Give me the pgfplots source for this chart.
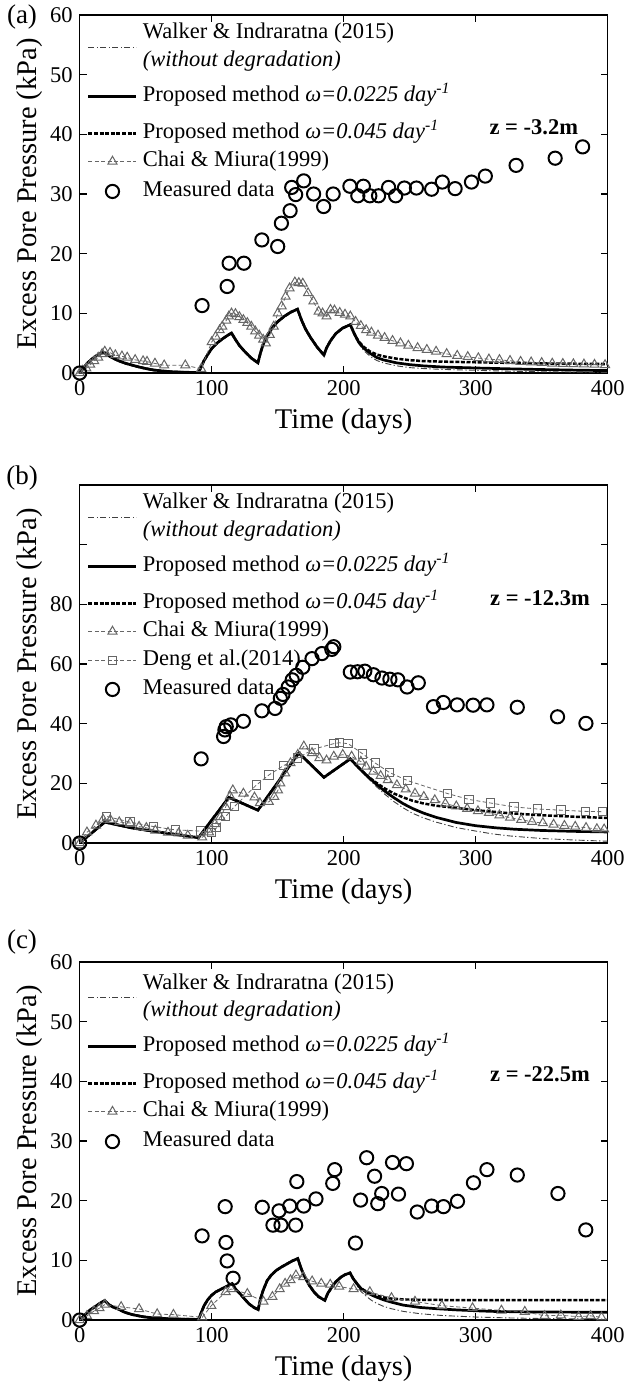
\documentclass[border=0pt]{standalone}
\usepackage{pgfplots}
\pgfplotsset{compat=1.18}
\usepackage{fontspec}
\setmainfont{Liberation Serif}
\tikzset{
  rowW/.style={text height=7.75pt, text depth=2.75pt},
  rowWO/.style={text height=7.75pt, text depth=2.75pt},
  rowPa/.style={text height=11.75pt, text depth=6.75pt},
  rowPb/.style={text height=8.75pt, text depth=3.75pt},
  rowC/.style={text height=7.25pt, text depth=2.25pt},
  rowM/.style={text height=9.75pt, text depth=4.75pt},
  rowD/.style={text height=9.25pt, text depth=4.25pt},
  rowMb/.style={text height=7.25pt, text depth=2.25pt},
}
\begin{document}
\begin{tikzpicture}[x=1pt,y=1pt]
\useasboundingbox (0,0) rectangle (312.5,-692);
\pgfplotsset{
  myaxis/.style={
    scale only axis, width=264pt, height=179pt,
    xmin=0, xmax=400, xtick={0,100,200,300,400},
    axis line style={line width=0.6pt},
    tick align=inside, major tick length=3.5pt,
    every tick/.style={line width=0.6pt, black},
    font=\fontsize{11.25}{13.5}\selectfont,
    /pgf/number format/assume math mode=true,
    xlabel={Time (days)}, ylabel={Excess Pore Pressure (kPa)},
    label style={font=\fontsize{14.25}{17}\selectfont},
    xlabel style={at={(axis description cs:0.5,-0.1353)}, anchor=center},
    ylabel style={at={(axis description cs:-0.0941,0.5)}, anchor=center},
    legend cell align=left,
    legend style={draw=none, fill=none, inner sep=0pt, row sep=0pt, column sep=1pt,
      nodes={inner sep=1.5pt}, font=\fontsize{11.25}{13.5}\selectfont,
      anchor=north west},
    legend image code/.code={\draw[mark repeat=2,mark phase=2,#1] plot coordinates {(0pt,0pt) (12pt,0pt) (24pt,0pt)};},
  },
  walker/.style={black!75, line width=0.45pt, dash pattern=on 3pt off 1.2pt on 0.6pt off 1.2pt,
    legend image code/.code={\draw[##1] (0pt,-6.75pt) -- (24pt,-6.75pt);}},
  solidp/.style={black, line width=1.35pt},
  dashp/.style={black, line width=1.25pt, dash pattern=on 2pt off 0.8pt},
  chai/.style={black!60, line width=0.4pt, dash pattern=on 2pt off 1.2pt, mark=triangle, mark size=2.6pt, mark options={solid, black!60, line width=0.5pt, fill=none}},
  deng/.style={black!60, line width=0.4pt, dash pattern=on 2pt off 1.2pt, mark=square, mark size=2.1pt, mark options={solid, black!60, line width=0.5pt, fill=none}},
  meas/.style={only marks, mark=o, mark size=3.3pt, mark options={black, line width=1pt}, legend image code/.code={\draw[##1] plot coordinates {(12pt,0pt)};}},
}
% ---------------- (a) ----------------
\begin{axis}[myaxis, at={(39.85pt,-186.5pt)}, anchor=south west, ymin=0, ymax=60, ytick={0,10,...,60},
  legend style={at={(axis description cs:0.0133,0.9858)}}]
\addplot[walker] coordinates {(0,0) (3,0.9) (6,1.7) (9,2.3) (12,2.8) (15,3.2) (18,3.5) (22,2.9) (26,2.4) (30,2.0) (35,1.6) (40,1.3) (45,1.0) (50,0.75) (56,0.5) (62,0.35) (70,0.2) (80,0.12) (90,0.08) (92,1.0) (94,2.0) (97,3.1) (100,4.1) (104,5.0) (108,5.7) (112,6.3) (115,6.7) (118,5.6) (121,4.6) (125,3.6) (130,2.5) (135,1.7) (137,3.4) (139,4.8) (142,6.3) (146,7.6) (150,8.6) (155,9.5) (160,10.2) (165,10.7) (168,8.9) (171,7.4) (175,5.9) (180,4.3) (185,3.0) (187,4.2) (190,5.4) (194,6.6) (199,7.5) (205,8.1) (208,6.3) (211,5.0) (215,3.8) (220,2.8) (225,2.1) (230,1.7) (240,1.2) (250,0.9) (260,0.75) (275,0.6) (300,0.45) (325,0.3) (350,0.2) (375,0.15) (400,0.1)};
\addlegendentry[rowW]{Walker \& Indraratna (2015)}
\addlegendimage{legend image code/.code={}}
\addlegendentry[rowWO]{\textit{(without degradation)}}
\addplot[solidp] coordinates {(0,0) (3,0.9) (6,1.7) (9,2.3) (12,2.8) (15,3.2) (18,3.5) (22,2.9) (26,2.4) (30,2.0) (35,1.6) (40,1.3) (45,1.0) (50,0.75) (56,0.5) (62,0.35) (70,0.2) (80,0.12) (90,0.08) (92,1.0) (94,2.0) (97,3.1) (100,4.1) (104,5.0) (108,5.7) (112,6.3) (115,6.7) (118,5.6) (121,4.6) (125,3.6) (130,2.5) (135,1.7) (137,3.4) (139,4.8) (142,6.3) (146,7.6) (150,8.6) (155,9.5) (160,10.2) (165,10.7) (168,8.9) (171,7.4) (175,5.9) (180,4.3) (185,3.0) (187,4.2) (190,5.4) (194,6.6) (199,7.5) (205,8.1) (208,6.6) (211,5.3) (215,4.2) (220,3.3) (225,2.6) (230,2.2) (240,1.7) (250,1.4) (260,1.2) (275,1.0) (300,0.84) (325,0.7) (350,0.58) (375,0.48) (400,0.4)};
\addlegendentry[rowPa]{Proposed method \textit{ω=0.0225 day\textsuperscript{-1}}}
\addplot[dashp] coordinates {(0,0) (3,0.9) (6,1.7) (9,2.3) (12,2.8) (15,3.2) (18,3.5) (22,2.9) (26,2.4) (30,2.0) (35,1.6) (40,1.3) (45,1.0) (50,0.75) (56,0.5) (62,0.35) (70,0.2) (80,0.12) (90,0.08) (92,1.0) (94,2.0) (97,3.1) (100,4.1) (104,5.0) (108,5.7) (112,6.3) (115,6.7) (118,5.6) (121,4.6) (125,3.6) (130,2.5) (135,1.7) (137,3.4) (139,4.8) (142,6.3) (146,7.6) (150,8.6) (155,9.5) (160,10.2) (165,10.7) (168,8.9) (171,7.4) (175,5.9) (180,4.3) (185,3.0) (187,4.2) (190,5.4) (194,6.6) (199,7.5) (205,8.1) (208,6.6) (211,5.4) (215,4.4) (220,3.6) (225,3.1) (230,2.8) (240,2.4) (250,2.15) (260,2.0) (275,1.9) (300,1.8) (325,1.7) (350,1.6) (375,1.55) (400,1.5)};
\addlegendentry[rowPb]{Proposed method \textit{ω=0.045 day\textsuperscript{-1}}}
\addplot[chai] coordinates {(0,0) (2,0.4) (5,0.8) (8,1.4) (11,2.0) (14,2.6) (17,3.2) (19,3.6) (23,3.4) (27,3.0) (32,2.8) (36,2.6) (42,2.2) (48,2.0) (51,1.9) (57,1.6) (64,1.3) (80,1.3) (92,0.7) (100,5.2) (103,6.1) (106,7.2) (108,7.8) (111,8.8) (113,9.5) (115,10.0) (118,9.9) (121,9.4) (124,8.9) (127,8.4) (130,7.8) (133,7.0) (136,6.3) (139,5.6) (141,5.0) (144,6.4) (147,7.8) (150,10.0) (153,11.2) (156,12.8) (159,14.2) (163,15.2) (166,15.1) (169,15.0) (173,13.4) (177,12.0) (181,10.3) (184,10.0) (187,9.5) (190,10.6) (193,10.5) (197,10.1) (201,9.8) (205,9.5) (209,8.6) (213,7.9) (217,7.2) (221,6.8) (226,6.3) (231,5.9) (237,5.4) (243,5.0) (249,4.6) (256,4.2) (263,3.9) (270,3.6) (278,3.2) (286,2.9) (294,2.7) (302,2.5) (310,2.3) (318,2.2) (326,2.05) (334,1.9) (342,1.8) (350,1.7) (358,1.6) (366,1.55) (374,1.5) (382,1.45) (390,1.4) (398,1.35)};
\addlegendentry[rowC]{Chai \& Miura(1999)}
\addplot[meas] coordinates {(0,0) (92.7,11.3) (111.7,14.5) (113.2,18.4) (124.4,18.4) (138,22.3) (150,21.2) (152.8,25.1) (159.4,27.2) (160.6,31.1) (163.6,29.9) (169.7,32.2) (177.2,30.0) (184.8,27.9) (192,30.0) (204.7,31.3) (210.7,29.7) (214.9,31.3) (219.8,29.7) (226.4,29.7) (234,31.1) (239.4,29.7) (246,31.0) (255.1,31.0) (266.6,30.8) (274.7,32.0) (284.4,30.9) (296.8,32.0) (307.3,33.0) (330.6,34.8) (360.2,36.0) (381,37.9)};
\addlegendentry[rowM]{Measured data}
\node[font=\fontsize{11.25}{13.5}\selectfont\bfseries] at (axis cs:344,41.2) {z = -3.2m};
\end{axis}
% ---------------- (b) ----------------
\begin{axis}[myaxis, at={(39.85pt,-421.5pt)}, anchor=south west, ymin=0, ymax=120, ytick={0,20,...,120}, yticklabels={0,20,40,60,80,{},{}},
  legend style={at={(axis description cs:0.0133,0.9858)}}]
\addplot[walker] coordinates {(0,0) (19,7.0) (40,5.0) (67,3.2) (90,1.8) (113,15.3) (135,11.0) (166,30.2) (185,22.0) (205,28.2) (211,25.4) (217,22.3) (224,19.2) (231,16.4) (238,13.9) (245,11.8) (252,10.0) (260,8.5) (270,7.0) (285,5.2) (300,4.0) (312,3.1) (325,2.4) (350,1.5) (375,1.0) (400,0.6)};
\addlegendentry[rowW]{Walker \& Indraratna (2015)}
\addlegendimage{legend image code/.code={}}
\addlegendentry[rowWO]{\textit{(without degradation)}}
\addplot[solidp] coordinates {(0,0) (19,7.0) (40,5.0) (67,3.2) (90,1.8) (113,15.3) (135,11.0) (166,30.2) (185,22.0) (205,28.2) (211,25.4) (217,22.8) (224,20.0) (231,17.4) (238,15.2) (245,13.2) (252,11.6) (260,10.1) (270,8.6) (285,6.9) (300,5.8) (315,5.1) (330,4.6) (350,4.2) (375,3.9) (400,3.7)};
\addlegendentry[rowPa]{Proposed method \textit{ω=0.0225 day\textsuperscript{-1}}}
\addplot[dashp] coordinates {(0,0) (19,7.0) (40,5.0) (67,3.2) (90,1.8) (113,15.3) (135,11.0) (166,30.2) (185,22.0) (205,28.2) (211,25.4) (217,22.8) (224,20.4) (231,18.3) (238,16.6) (245,15.3) (252,14.2) (260,13.3) (270,12.5) (285,11.8) (300,11.0) (325,10.0) (350,9.3) (375,8.8) (400,8.4)};
\addlegendentry[rowPb]{Proposed method \textit{ω=0.045 day\textsuperscript{-1}}}
\addplot[chai] coordinates {(0,0) (5.5,3.6) (12.3,5.9) (17.7,7.9) (23.2,7.8) (30,7.0) (38.2,6.7) (45,5.5) (50.5,5.1) (57.3,4.2) (66.9,3.5) (75,3.3) (81.9,2.5) (92.8,1.9) (98,3.6) (102.4,6.4) (106.5,8.7) (110.6,12.1) (113.9,15.7) (116,17.7) (124,16.6) (132.4,15.3) (136.5,13.4) (143.3,13.8) (147.4,15.5) (150.2,17.7) (152,20) (155.6,23.4) (159.7,26.8) (165.2,29.6) (169.8,32.4) (176,30.2) (181.6,28.5) (187,27.7) (192.5,29.0) (199.3,29.6) (206,29.0) (213,27.3) (217,25.6) (222.5,24.0) (228,22.5) (233.4,21.1) (240.3,19.4) (247,18.0) (254,16.6) (260.7,15.5) (269,14.4) (277,13.2) (285.3,12.3) (293.5,11.5) (301.7,10.7) (310,10.1) (318,9.3) (326,8.5) (334.5,7.8) (342.7,7.1) (350.9,6.7) (359,6.2) (367.2,5.8) (375.4,5.5) (383.6,5.1) (391.8,4.7) (397.3,4.6)};
\addlegendentry[rowC]{Chai \& Miura(1999)}
\addplot[deng] coordinates {(0,0) (20.5,8.9) (38.2,7.0) (56,5.5) (72.4,4.4) (91.5,4.0) (99.7,3.6) (103.8,5.1) (110.6,8.9) (117.4,12.3) (133.8,19.4) (143.3,22.8) (154.3,25.9) (165.2,28.5) (177.5,31.5) (192.5,33.3) (196.6,33.6) (203.4,33.3) (214.3,29.9) (223.9,26.8) (234.8,23.6) (248.5,20.9) (278.5,16.6) (294.9,14.6) (311.3,13.4) (329,12.1) (346.8,11.4) (364.5,11.0) (383,10.6) (396,10.5)};
\addlegendentry[rowD]{Deng et al.(2014)}
\addplot[meas] coordinates {(0,0) (92,28.2) (109,35.7) (110,37.9) (111,39) (114.5,39.6) (124,40.8) (138,44.3) (148,45.1) (152,48.5) (154,49.8) (158,52.3) (161,54.7) (164,56.2) (169,58.9) (176,61.8) (183.5,63.5) (191,64.9) (192.5,65.8) (205,57.3) (210.5,57.4) (216,57.6) (222.5,56.4) (229,55.3) (235,54.9) (241,54.7) (248,52.3) (256.5,53.7) (268,45.7) (275.5,47.1) (286,46.3) (298,46.2) (308.5,46.3) (331.5,45.5) (362,42.3) (383.5,40.1)};
\addlegendentry[rowMb]{Measured data}
\node[font=\fontsize{11.25}{13.5}\selectfont\bfseries] at (axis cs:348.7,82) {z = -12.3m};
\end{axis}
% ---------------- (c) ----------------
\begin{axis}[myaxis, at={(39.85pt,-660pt)}, anchor=south west, ymin=0, ymax=60, ytick={0,10,...,60},
  legend style={at={(axis description cs:0.0133,0.977)}}]
\addplot[walker] coordinates {(0,0) (4,0.9) (8,1.7) (12,2.3) (16,2.9) (19,3.26) (22,2.6) (25,2.2) (29,1.85) (34,1.3) (40,0.9) (48,0.55) (56,0.34) (70,0.18) (90,0.1) (92,1.2) (94.2,2.4) (97,3.4) (99.7,4.1) (103,4.7) (106.5,5.1) (110,5.5) (115.5,6.1) (118,5.2) (121.5,4.4) (125,3.5) (128.3,2.7) (132,2.1) (135.2,1.75) (137,3.6) (139,5.0) (142,6.6) (145,7.5) (148.8,8.3) (153,8.9) (157,9.4) (161,9.9) (165.2,10.3) (168,8.5) (170.6,7.2) (174,5.8) (177.5,4.7) (181,3.9) (185.7,3.3) (188,4.5) (191,5.5) (194,6.4) (198,7.2) (201,7.6) (204.8,7.9) (207,6.9) (210,5.8) (213,4.8) (217,4.0) (221,3.3) (225,2.8) (230,2.3) (236,1.9) (245,1.45) (258,1.05) (275,0.75) (300,0.5) (325,0.35) (350,0.25) (400,0.15)};
\addlegendentry[rowW]{Walker \& Indraratna (2015)}
\addlegendimage{legend image code/.code={}}
\addlegendentry[rowWO]{\textit{(without degradation)}}
\addplot[solidp] coordinates {(0,0) (4,0.9) (8,1.7) (12,2.3) (16,2.9) (19,3.26) (22,2.6) (25,2.2) (29,1.85) (34,1.3) (40,0.9) (48,0.55) (56,0.34) (70,0.18) (90,0.1) (92,1.2) (94.2,2.4) (97,3.4) (99.7,4.1) (103,4.7) (106.5,5.1) (110,5.5) (115.5,6.1) (118,5.2) (121.5,4.4) (125,3.5) (128.3,2.7) (132,2.1) (135.2,1.75) (137,3.6) (139,5.0) (142,6.6) (145,7.5) (148.8,8.3) (153,8.9) (157,9.4) (161,9.9) (165.2,10.3) (168,8.5) (170.6,7.2) (174,5.8) (177.5,4.7) (181,3.9) (185.7,3.3) (188,4.5) (191,5.5) (194,6.4) (198,7.2) (201,7.6) (204.8,7.9) (207,7.0) (210,6.1) (213,5.3) (217,4.7) (221,4.2) (225.3,3.8) (230,3.4) (236,3.0) (245,2.5) (258,2.1) (270,1.9) (285,1.7) (300,1.55) (312,1.45) (340,1.35) (370,1.32) (400,1.3)};
\addlegendentry[rowPa]{Proposed method \textit{ω=0.0225 day\textsuperscript{-1}}}
\addplot[dashp] coordinates {(0,0) (4,0.9) (8,1.7) (12,2.3) (16,2.9) (19,3.26) (22,2.6) (25,2.2) (29,1.85) (34,1.3) (40,0.9) (48,0.55) (56,0.34) (70,0.18) (90,0.1) (92,1.2) (94.2,2.4) (97,3.4) (99.7,4.1) (103,4.7) (106.5,5.1) (110,5.5) (115.5,6.1) (118,5.2) (121.5,4.4) (125,3.5) (128.3,2.7) (132,2.1) (135.2,1.75) (137,3.6) (139,5.0) (142,6.6) (145,7.5) (148.8,8.3) (153,8.9) (157,9.4) (161,9.9) (165.2,10.3) (168,8.5) (170.6,7.2) (174,5.8) (177.5,4.7) (181,3.9) (185.7,3.3) (188,4.5) (191,5.5) (194,6.4) (198,7.2) (201,7.6) (204.8,7.9) (207,7.0) (210,6.1) (213,5.3) (217,4.8) (221,4.4) (225,4.1) (230,3.8) (236,3.6) (245,3.45) (258,3.38) (280,3.35) (400,3.35)};
\addlegendentry[rowPb]{Proposed method \textit{ω=0.045 day\textsuperscript{-1}}}
\addplot[chai] coordinates {(0,0) (5.5,0.7) (10.9,1.5) (15,2.0) (19.1,2.6) (31.4,2.2) (45,1.85) (58.7,1.0) (71,0.9) (92.8,0.45) (99.7,2.4) (110.6,4.7) (114.7,5.2) (127,4.4) (139.2,3.1) (146,3.9) (151.5,5.2) (155.6,6.1) (159.7,6.7) (163.8,7.5) (169.3,7.2) (176.1,6.5) (183,6.1) (189.8,5.95) (196.6,5.6) (207.5,5.2) (219.8,4.7) (236.2,3.7) (254,3.1) (274.4,2.4) (297.6,2.0) (319.5,1.6) (337.2,1.4) (352.2,0.7) (364.5,0.8) (378,0.55) (387,0.7) (395.3,0.45)};
\addlegendentry[rowC]{Chai \& Miura(1999)}
\addplot[meas] coordinates {(0,0) (92.7,14.1) (110.2,19.0) (110.8,13.0) (111.7,9.9) (116.2,7.0) (138.3,18.9) (146.4,15.9) (151,18.3) (152.5,15.9) (159.1,19.1) (163.6,15.9) (164.5,23.2) (169.7,19.1) (179,20.3) (191.7,22.9) (193.2,25.2) (208.9,12.9) (212.8,20.1) (217.4,27.2) (223.4,24.1) (225.8,19.5) (228.8,21.2) (237,26.4) (241.5,21.1) (247.5,26.2) (255.7,18.1) (266.6,19.1) (275.6,19.0) (286.2,19.9) (298.3,23.0) (308.5,25.2) (331.5,24.3) (362.3,21.2) (383.4,15.1)};
\addlegendentry[rowM]{Measured data}
\node[font=\fontsize{11.25}{13.5}\selectfont\bfseries] at (axis cs:348.7,41.2) {z = -22.5m};
\end{axis}
\node[font=\fontsize{13.5}{16}\selectfont] at (11,-8.5) {(a)};
\node[font=\fontsize{13.5}{16}\selectfont] at (11,-239) {(b)};
\node[font=\fontsize{13.5}{16}\selectfont] at (11,-471) {(c)};
\end{tikzpicture}
\end{document}
